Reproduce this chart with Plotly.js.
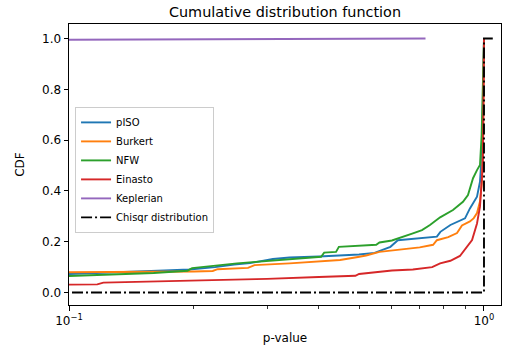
<!DOCTYPE html>
<html>
<head>
<meta charset="utf-8">
<script src="https://cdn.plot.ly/plotly-3.0.1.min.js"></script>
<style>
html,body{margin:0;padding:0;background:#fff;}
#chart{width:505px;height:349px;}
</style>
</head>
<body>
<div id="chart"></div>
<script>
// ---- data ----
const pisoX = [0.1, 0.12, 0.14, 0.17, 0.195, 0.225, 0.25, 0.273, 0.31, 0.34, 0.40, 0.45, 0.50, 0.545, 0.565, 0.595, 0.62, 0.70, 0.77, 0.785, 0.83, 0.90, 0.925, 0.962, 0.978, 0.989, 0.995, 1.0];
const pisoY = [0.073, 0.077, 0.081, 0.087, 0.091, 0.100, 0.110, 0.116, 0.132, 0.138, 0.142, 0.146, 0.150, 0.156, 0.165, 0.180, 0.206, 0.213, 0.220, 0.239, 0.266, 0.292, 0.331, 0.377, 0.436, 0.56, 0.75, 1.0];

const burkertX = [0.1, 0.15, 0.2, 0.222, 0.228, 0.27, 0.28, 0.34, 0.40, 0.45, 0.497, 0.52, 0.56, 0.60, 0.663, 0.70, 0.754, 0.77, 0.82, 0.861, 0.885, 0.925, 0.945, 0.962, 0.978, 0.989, 0.995, 1.0];
const burkertY = [0.080, 0.081, 0.083, 0.085, 0.092, 0.097, 0.108, 0.115, 0.121, 0.128, 0.140, 0.146, 0.160, 0.166, 0.175, 0.178, 0.188, 0.206, 0.218, 0.234, 0.264, 0.280, 0.293, 0.313, 0.358, 0.44, 0.6, 1.0];

const nfwX = [0.1, 0.13, 0.16, 0.193, 0.198, 0.254, 0.30, 0.34, 0.405, 0.412, 0.44, 0.447, 0.55, 0.56, 0.60, 0.674, 0.709, 0.741, 0.784, 0.842, 0.89, 0.915, 0.941, 0.962, 0.978, 0.987, 0.995, 1.0];
const nfwY = [0.065, 0.071, 0.077, 0.086, 0.096, 0.115, 0.124, 0.129, 0.141, 0.157, 0.160, 0.180, 0.188, 0.197, 0.205, 0.233, 0.246, 0.266, 0.296, 0.325, 0.357, 0.384, 0.45, 0.482, 0.502, 0.62, 0.8, 1.0];

const einastoX = [0.1, 0.117, 0.121, 0.16, 0.2, 0.3, 0.4, 0.49, 0.50, 0.56, 0.60, 0.674, 0.75, 0.784, 0.83, 0.875, 0.89, 0.9, 0.936, 0.962, 0.978, 0.994, 1.0];
const einastoY = [0.031, 0.032, 0.039, 0.043, 0.047, 0.054, 0.061, 0.066, 0.073, 0.082, 0.087, 0.091, 0.100, 0.115, 0.125, 0.144, 0.160, 0.174, 0.207, 0.272, 0.338, 0.51, 1.0];

const keplerX = [0.05, 0.723];
const keplerY = [0.9935, 1.0];

const chisqX = [0.01, 1.0, 1.0, 1.05];
const chisqY = [0.0, 0.0, 1.0, 1.0];

const seriesNames = ['pISO', 'Burkert', 'NFW', 'Einasto', 'Keplerian', 'Chisqr distribution'];
const seriesColors = ['#1f77b4', '#ff7f0e', '#2ca02c', '#d62728', '#9467bd', '#000000'];

const yTickVals = [0, 0.2, 0.4, 0.6, 0.8, 1.0];
const xMajorTicks = [0.1, 1];
const xMajorText = ['10<sup>\u22121</sup>', '10<sup>0</sup>'];
const xMinorTicks = [0.2, 0.3, 0.4, 0.5, 0.6, 0.7, 0.8, 0.9];

const xs = [pisoX, burkertX, nfwX, einastoX, keplerX, chisqX];
const ys = [pisoY, burkertY, nfwY, einastoY, keplerY, chisqY];

const traces = xs.map((x, i) => ({
  x: x, y: ys[i], type: 'scatter', mode: 'lines', name: seriesNames[i],
  line: {color: seriesColors[i], width: 1.9,
         dash: i === 5 ? '11px,3px,2px,3px' : 'solid'},
  hoverinfo: 'skip'
}));

const font = 'DejaVu Sans, sans-serif';
const layout = {
  width: 505, height: 349,
  margin: {l: 69, r: 4, t: 24, b: 44},
  paper_bgcolor: '#fff', plot_bgcolor: '#fff',
  font: {family: font, size: 12, color: '#000'},
  title: {text: 'Cumulative distribution function', font: {size: 14.4, family: font, color: '#000'},
          x: 0.5, xref: 'paper', xanchor: 'center', y: 0.966, yref: 'container', yanchor: 'middle'},
  showlegend: true,
  legend: {x: 0.014, y: 0.705, xanchor: 'left', yanchor: 'top',
           bgcolor: 'rgba(255,255,255,0.8)', bordercolor: '#cccccc', borderwidth: 1,
           font: {size: 10, family: font, color: '#000'}, tracegroupgap: 0},
  xaxis: {
    type: 'log', range: [-1, 0.041], autorange: false,
    showgrid: false, zeroline: false,
    showline: true, linecolor: '#000', linewidth: 1, mirror: true,
    ticks: 'outside', ticklen: 4.5, tickwidth: 1, tickcolor: '#000',
    tickmode: 'array', tickvals: xMajorTicks, ticktext: xMajorText,
    tickfont: {size: 12, family: font},
    minor: {tickmode: 'array', tickvals: xMinorTicks, ticks: 'outside', ticklen: 2.5, tickwidth: 0.8, tickcolor: '#000', showgrid: false},
    title: {text: 'p-value', font: {size: 12, family: font}, standoff: 6}
  },
  yaxis: {
    range: [-0.049, 1.057], autorange: false,
    showgrid: false, zeroline: false,
    showline: true, linecolor: '#000', linewidth: 1, mirror: true,
    ticks: 'outside', ticklen: 4.5, tickwidth: 1, tickcolor: '#000',
    tickmode: 'array', tickvals: yTickVals, tickformat: '.1f',
    tickfont: {size: 12, family: font},
    title: {text: 'CDF', font: {size: 12, family: font}, standoff: 14}
  }
};

Plotly.newPlot('chart', traces, layout, {displayModeBar: false, staticPlot: true});
</script>
</body>
</html>
